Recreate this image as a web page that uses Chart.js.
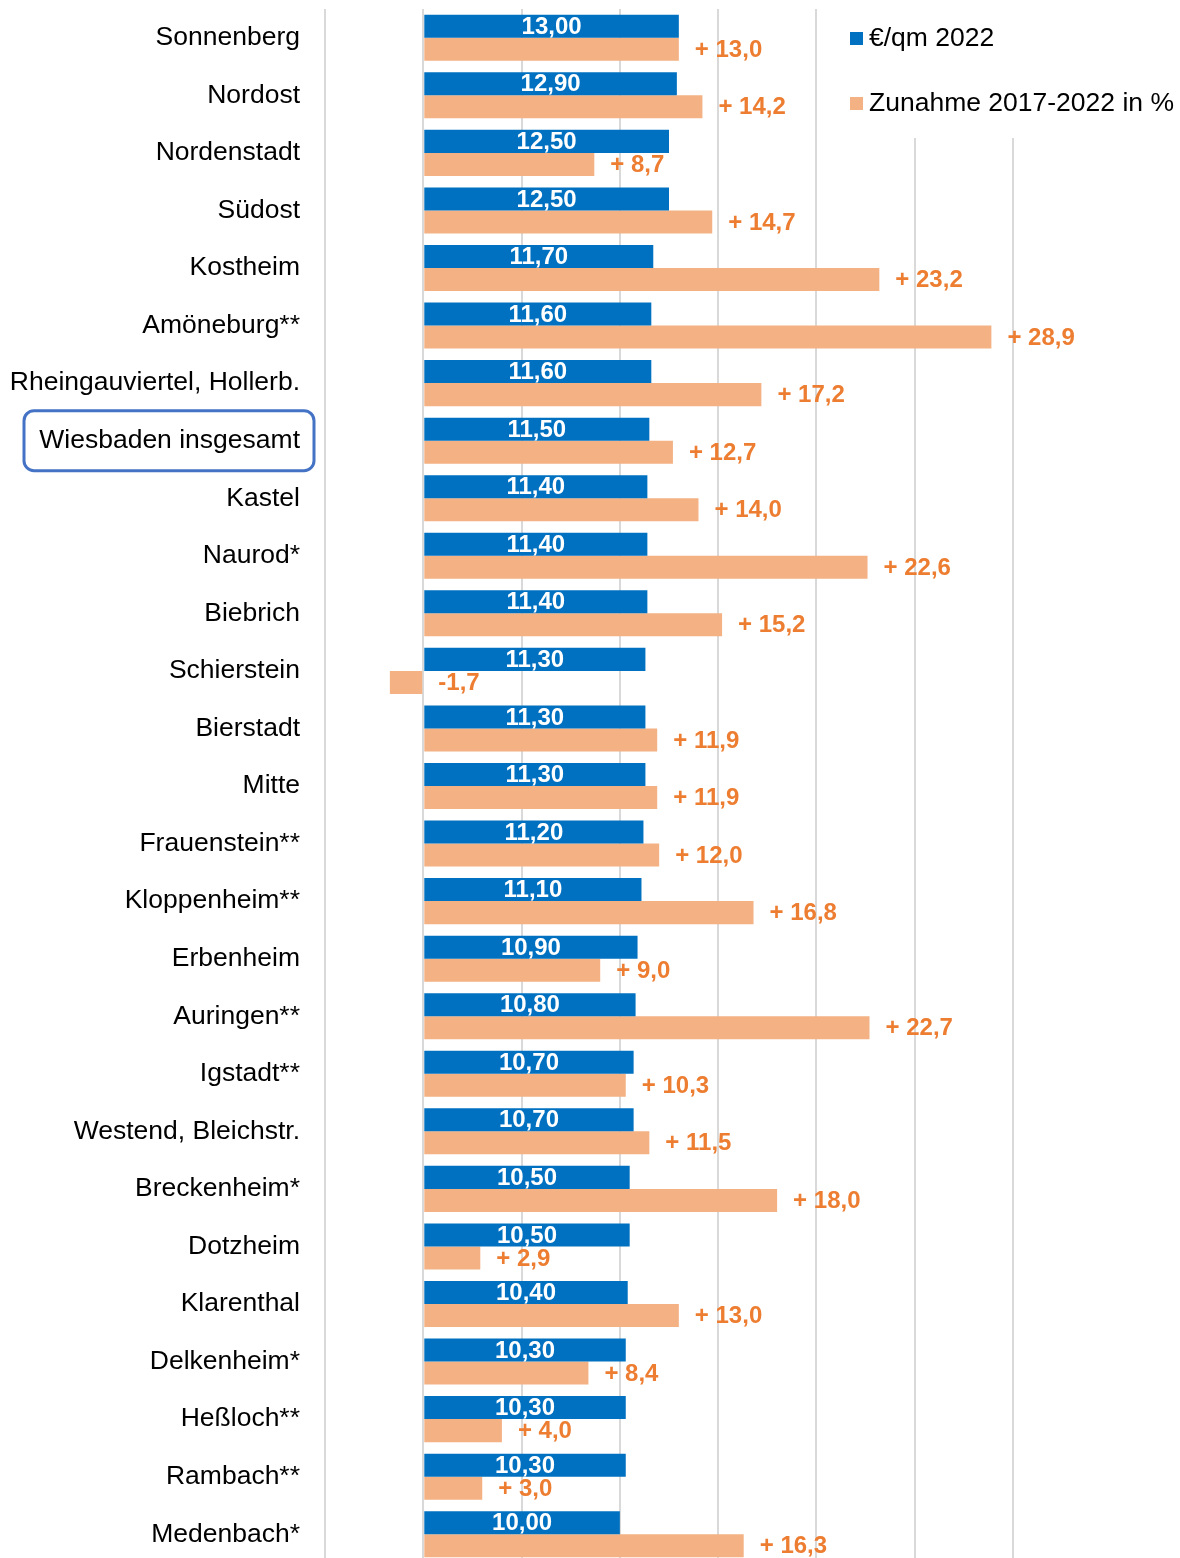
<!DOCTYPE html>
<html>
<head>
<meta charset="utf-8">
<script src="https://cdn.jsdelivr.net/npm/chart.js@4.4.1/dist/chart.umd.min.js"></script>
<style>
  html, body { margin: 0; padding: 0; background: #fff; overflow: hidden; }
  #wrap { width: 1180px; height: 1558px; overflow: hidden; }
</style>
</head>
<body>
<div id="wrap"><canvas id="rentChart" width="1180" height="1563"></canvas></div>
<script>
// Data
const districts = [
    'Sonnenberg', 'Nordost', 'Nordenstadt', 'Südost', 'Kostheim', 'Amöneburg**',
    'Rheingauviertel, Hollerb.', 'Wiesbaden insgesamt', 'Kastel', 'Naurod*', 'Biebrich',
    'Schierstein', 'Bierstadt', 'Mitte', 'Frauenstein**', 'Kloppenheim**', 'Erbenheim',
    'Auringen**', 'Igstadt**', 'Westend, Bleichstr.', 'Breckenheim*', 'Dotzheim',
    'Klarenthal', 'Delkenheim*', 'Heßloch**', 'Rambach**', 'Medenbach*'
];
const rent2022 = [
    13.00, 12.90, 12.50, 12.50, 11.70, 11.60, 11.60, 11.50, 11.40, 11.40, 11.40,
    11.30, 11.30, 11.30, 11.20, 11.10, 10.90, 10.80, 10.70, 10.70, 10.50, 10.50,
    10.40, 10.30, 10.30, 10.30, 10.00
];
const increase = [
    13.0, 14.2, 8.7, 14.7, 23.2, 28.9, 17.2, 12.7, 14.0, 22.6, 15.2,
    -1.7, 11.9, 11.9, 12.0, 16.8, 9.0, 22.7, 10.3, 11.5, 18.0, 2.9,
    13.0, 8.4, 4.0, 3.0, 16.3
];
const seriesNames = ['€/qm 2022', 'Zunahme 2017-2022 in %'];
const xMin = -5, xMax = 30, xStep = 5;
const highlighted = 'Wiesbaden insgesamt';

const BLUE = '#0070C0';
const ORANGE = '#F4B183';
const ORANGE_TEXT = '#ED7D31';
const FONT = '"Liberation Sans", Arial, sans-serif';

const fmt = (v, d) => v.toFixed(d).replace('.', ',');

// value labels on the bars
const valueLabels = {
    id: 'valueLabels',
    afterDatasetsDraw(chart) {
        const ctx = chart.ctx;
        ctx.save();
        ctx.textBaseline = 'middle';
        ctx.font = 'bold 24px ' + FONT;
        chart.getDatasetMeta(0).data.forEach((bar, i) => {
            ctx.fillStyle = '#fff';
            ctx.textAlign = 'center';
            ctx.fillText(fmt(rent2022[i], 2), (bar.x + bar.base) / 2, bar.y + 1);
        });
        chart.getDatasetMeta(1).data.forEach((bar, i) => {
            const v = increase[i];
            const txt = v < 0 ? '-' + fmt(-v, 1) : '+ ' + fmt(v, 1);
            ctx.fillStyle = ORANGE_TEXT;
            ctx.textAlign = 'left';
            ctx.fillText(txt, Math.max(bar.x, bar.base) + 16, bar.y + 1);
        });
        ctx.restore();
    }
};

// box round "Wiesbaden insgesamt" + legend
const extras = {
    id: 'extras',
    afterDraw(chart) {
        const ctx = chart.ctx;
        const y = chart.scales.y.getPixelForValue(districts.indexOf(highlighted));
        ctx.save();
        ctx.strokeStyle = '#4472C4';
        ctx.lineWidth = 3;
        ctx.beginPath();
        ctx.roundRect(24, y - 30, 290, 60, 10);
        ctx.stroke();

        // legend
        ctx.fillStyle = '#fff';
        ctx.fillRect(840, 0, 340, 138);
        const colors = [BLUE, ORANGE];
        const rows = [38, 103];
        ctx.font = '26.5px ' + FONT;
        ctx.textAlign = 'left';
        ctx.textBaseline = 'middle';
        seriesNames.forEach((name, i) => {
            ctx.fillStyle = colors[i];
            ctx.fillRect(850, rows[i] - 6, 13, 13);
            ctx.fillStyle = '#000';
            ctx.fillText(name, 869, rows[i] + 1);
        });
        ctx.restore();
    }
};

const ctx = document.getElementById('rentChart').getContext('2d');
new Chart(ctx, {
    type: 'bar',
    data: {
        labels: districts,
        datasets: [
            { label: seriesNames[0], data: rent2022, backgroundColor: BLUE },
            { label: seriesNames[1], data: increase, backgroundColor: ORANGE }
        ]
    },
    options: {
        indexAxis: 'y',
        responsive: false,
        animation: false,
        categoryPercentage: 0.8,
        barPercentage: 1.0,
        layout: { padding: { left: 10, right: 167, top: 9, bottom: 0 } },
        plugins: {
            legend: { display: false },
            tooltip: { enabled: false }
        },
        scales: {
            x: {
                min: xMin,
                max: xMax,
                ticks: { display: false, stepSize: xStep },
                grid: { color: '#D9D9D9', lineWidth: 2, drawTicks: false },
                border: { display: false },
                afterFit(s) { s.height = 0; s.paddingLeft = 0; s.paddingRight = 0; }
            },
            y: {
                ticks: {
                    color: '#000',
                    font: { family: FONT, size: 26.5 },
                    padding: 25,
                    autoSkip: false
                },
                grid: { display: false, drawTicks: false },
                border: { display: false },
                afterFit(s) { s.width = 315; s.paddingTop = 0; s.paddingBottom = 0; }
            }
        }
    },
    plugins: [valueLabels, extras]
});
</script>
</body>
</html>
